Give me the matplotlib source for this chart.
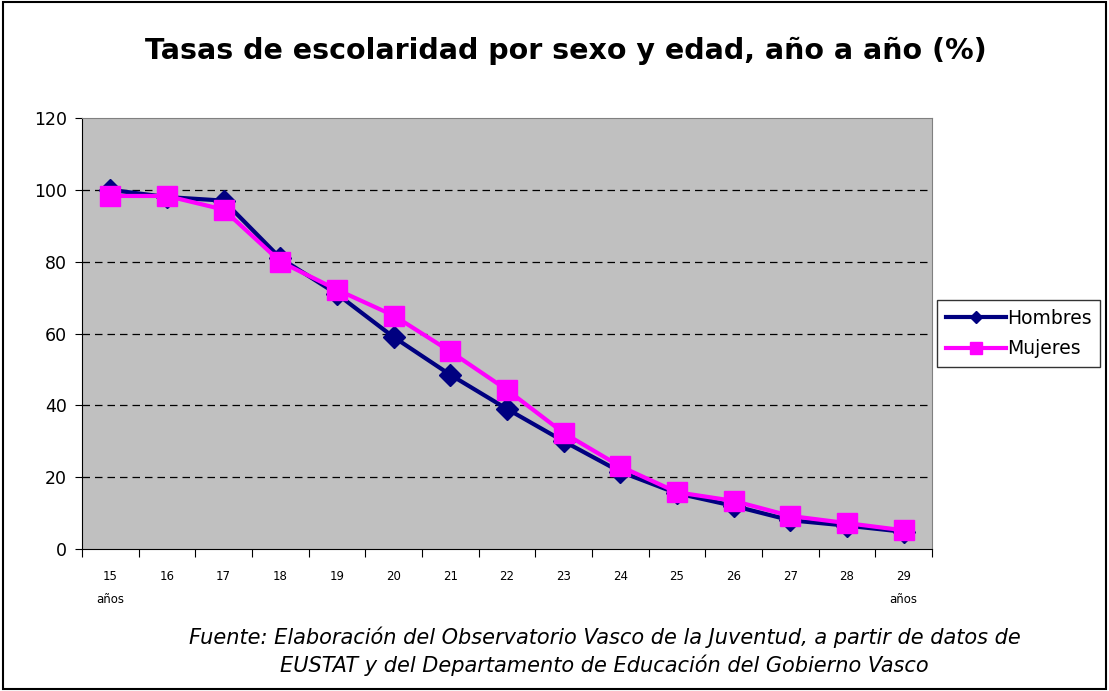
import matplotlib
matplotlib.use("Agg")
import matplotlib.pyplot as plt
import numpy as np

edades = ["15\naños", "16", "17", "18", "19", "20", "21", "22", "23", "24",
          "25", "26", "27", "28", "29\naños"]
hombres = [100, 98, 97, 81, 71, 59, 48.5, 39, 30, 21.5, 15.5, 12, 8, 6.5, 4.8]
mujeres = [98.3, 98.3, 94.5, 80, 72.2, 65, 55, 44.3, 32.3, 23, 15.8, 13.4, 9.2, 7.2, 5.2]

fig = plt.figure(figsize=(11.09, 6.91), dpi=100)
fig.patch.set_facecolor("white")
ax = fig.add_axes([0.0739, 0.2055, 0.7665, 0.6237])
ax.set_facecolor("#C0C0C0")

x = np.arange(len(edades))
ax.plot(x, hombres, color="#000080", lw=3, marker="D", ms=11, label="Hombres", zorder=3)
ax.plot(x, mujeres, color="#FF00FF", lw=3, marker="s", ms=14, label="Mujeres", zorder=4)

ax.set_xlim(-0.5, len(edades) - 0.5)
ax.set_ylim(0, 120)
ax.set_yticks(range(0, 121, 20))
ax.tick_params(axis="y", labelsize=12.5, length=5, direction="out", pad=6)
for v in range(20, 120, 20):
    ax.axhline(v, color="black", lw=0.9, ls=(0, (6, 4)), zorder=1)

ax.set_xticks(np.arange(-0.5, len(edades), 1.0))
ax.set_xticklabels([])
ax.tick_params(axis="x", which="major", length=6, direction="out")
ax.set_xticks(x, minor=True)
ax.set_xticklabels(edades, minor=True, fontsize=8.5, linespacing=2.0, va="top")
ax.tick_params(axis="x", which="minor", length=0, pad=15)

for s in ["top", "right"]:
    ax.spines[s].set_color("#808080")
for s in ["left", "bottom"]:
    ax.spines[s].set_color("black")

fig.text(0.510, 0.927, "Tasas de escolaridad por sexo y edad, año a año (%)",
         ha="center", va="center", fontsize=20.5, fontweight="bold")

leg = ax.legend(loc="center left", bbox_to_anchor=(1.006, 0.5), fontsize=13.5,
                frameon=True, fancybox=False, edgecolor="black", borderpad=0.45,
                handlelength=3.2, handletextpad=0.1, labelspacing=0.6, borderaxespad=0,
                markerscale=0.6)
leg.get_frame().set_linewidth(1.0)

fig.text(0.545, 0.078, "Fuente: Elaboración del Observatorio Vasco de la Juventud, a partir de datos de",
         ha="center", va="center", fontsize=15, style="italic")
fig.text(0.545, 0.037, "EUSTAT y del Departamento de Educación del Gobierno Vasco",
         ha="center", va="center", fontsize=15, style="italic")

border = plt.Rectangle((0.003, 0.003), 0.994, 0.994, transform=fig.transFigure,
                       fill=False, edgecolor="black", lw=1.5)
fig.patches.append(border)

fig.savefig("out.png", dpi=100)
